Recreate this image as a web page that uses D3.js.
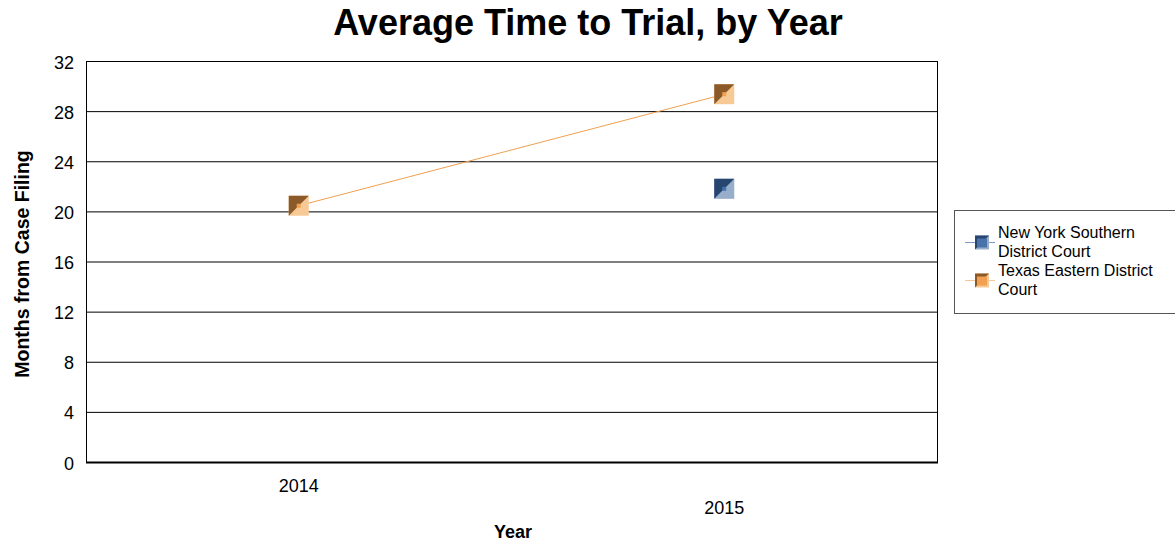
<!DOCTYPE html>
<html>
<head>
<meta charset="utf-8">
<script src="https://cdn.jsdelivr.net/npm/d3@7"></script>
<style>
  body { margin: 0; background: #fff; }
  text { font-family: Arial, "Liberation Sans", sans-serif; }
</style>
</head>
<body>
<script>
var years = ["2014", "2015"];
var yTicks = [0, 4, 8, 12, 16, 20, 24, 28, 32];
var nySouthern = [null, 21.8];
var txEastern = [20.45, 29.35];

var series = [
    {name: ["New York Southern", "District Court"], values: nySouthern,
     dark: "#264670", light: "#97aecb", mid: "#4a72aa", line: "#4a72aa", legLine: "#7e9cc4"},
    {name: ["Texas Eastern District", "Court"], values: txEastern,
     dark: "#8c5a28", light: "#f7c995", mid: "#f0a050", line: "#f0a050", legLine: "#f8c898"}
];

var W = 1175, H = 543;
var margin = {top: 61, left: 86},
    width = 851,
    height = 401;

var svg = d3.select("body").append("svg")
    .attr("width", W)
    .attr("height", H);

var x = d3.scaleBand().domain(years).range([0, width]);
var y = d3.scaleLinear().domain([0, 32]).range([height, 0]);

svg.append("text")
    .attr("x", 588).attr("y", 35)
    .attr("text-anchor", "middle")
    .style("font-size", "36px").style("font-weight", "bold")
    .text("Average Time to Trial, by Year");

var g = svg.append("g")
    .attr("transform", "translate(" + margin.left + "," + margin.top + ")");

// grid lines
g.selectAll("line.grid").data(yTicks).enter().append("line")
    .attr("class", "grid")
    .attr("x1", 0).attr("x2", width)
    .attr("y1", function(d) { return y(d) + 0.5; })
    .attr("y2", function(d) { return y(d) + 0.5; })
    .attr("stroke", "#000").attr("stroke-width", 1);

// frame
g.append("line").attr("x1", 0.5).attr("x2", 0.5).attr("y1", 0).attr("y2", height)
    .attr("stroke", "#000");
g.append("line").attr("x1", width + 0.5).attr("x2", width + 0.5).attr("y1", 0).attr("y2", height)
    .attr("stroke", "#000");
g.append("line").attr("x1", 0).attr("x2", width + 1).attr("y1", height + 0.5).attr("y2", height + 0.5)
    .attr("stroke", "#000").attr("stroke-width", 2);

// y tick labels
g.selectAll("text.ytick").data(yTicks).enter().append("text")
    .attr("class", "ytick")
    .attr("x", -12).attr("y", function(d) { return y(d) + 7.5; })
    .attr("text-anchor", "end")
    .style("font-size", "18px")
    .text(function(d) { return d; });

// x tick labels (staggered)
g.selectAll("text.xtick").data(years).enter().append("text")
    .attr("class", "xtick")
    .attr("x", function(d) { return x(d) + x.bandwidth() / 2; })
    .attr("y", function(d, i) { return height + 30 + i * 21.5; })
    .attr("text-anchor", "middle")
    .style("font-size", "18px")
    .text(function(d) { return d; });

svg.append("text")
    .attr("x", 513).attr("y", 538)
    .attr("text-anchor", "middle")
    .style("font-size", "18px").style("font-weight", "bold")
    .text("Year");

svg.append("text")
    .attr("transform", "translate(29,264) rotate(-90)")
    .attr("text-anchor", "middle")
    .style("font-size", "19.5px").style("font-weight", "bold")
    .text("Months from Case Filing");

function marker(sel, s, size) {
    var h = size / 2;
    sel.append("rect").attr("x", -h).attr("y", -h).attr("width", size).attr("height", size)
        .attr("fill", s.light);
    sel.append("path")
        .attr("d", "M" + (-h) + "," + (-h) + "L" + h + "," + (-h) + "L" + (-h) + "," + h + "Z")
        .attr("fill", s.dark);
    sel.append("rect").attr("x", -2).attr("y", -2).attr("width", 4).attr("height", 4)
        .attr("fill", s.mid);
}

series.forEach(function(s) {
    var pts = years.map(function(yr, i) { return {year: yr, v: s.values[i]}; })
        .filter(function(d) { return d.v !== null; });
    var line = d3.line()
        .x(function(d) { return x(d.year) + x.bandwidth() / 2; })
        .y(function(d) { return y(d.v); });
    g.append("path").datum(pts)
        .attr("d", line)
        .attr("fill", "none")
        .attr("stroke", s.line).attr("stroke-width", 1);
    pts.forEach(function(d) {
        var m = g.append("g")
            .attr("transform", "translate(" + (x(d.year) + x.bandwidth() / 2) + "," + y(d.v) + ")");
        marker(m, s, 20);
    });
});

// legend
var lg = svg.append("g").attr("transform", "translate(954,210)");
lg.append("rect").attr("x", 0.5).attr("y", 0.5).attr("width", 225).attr("height", 103)
    .attr("fill", "#fff").attr("stroke", "#555");
series.forEach(function(s, i) {
    var cy = 32.5 + i * 38;
    lg.append("line").attr("x1", 11).attr("x2", 41).attr("y1", cy).attr("y2", cy)
        .attr("stroke", s.legLine).attr("stroke-width", 1);
    var m = lg.append("g").attr("transform", "translate(28," + cy + ")");
    m.append("rect").attr("x", -7).attr("y", -7).attr("width", 14).attr("height", 14).attr("fill", s.light);
    m.append("path").attr("d", "M-7,-7L7,-7L-7,7Z").attr("fill", s.dark);
    m.append("rect").attr("x", -5).attr("y", -4).attr("width", 10).attr("height", 9).attr("fill", s.mid);
    s.name.forEach(function(t, j) {
        lg.append("text")
            .attr("x", 44).attr("y", cy - 4.5 + j * 18.5)
            .style("font-size", "16px")
            .text(t);
    });
});
</script>
</body>
</html>
